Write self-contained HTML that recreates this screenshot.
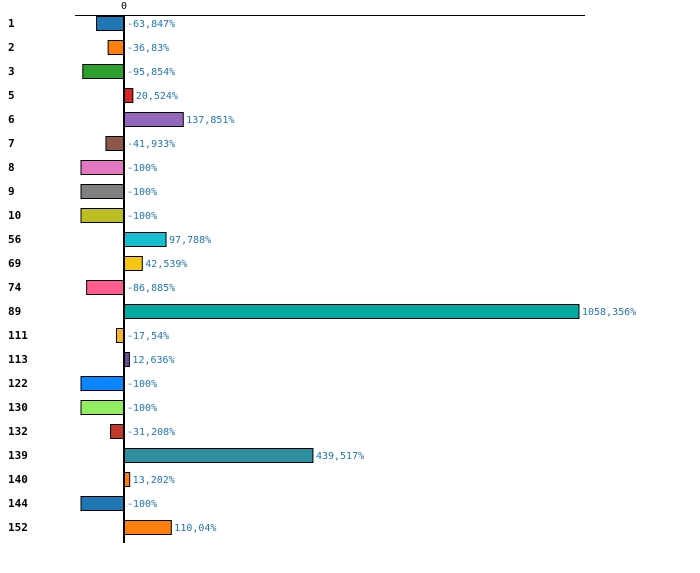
<!DOCTYPE html>
<html><head><meta charset="utf-8"><style>
body{margin:0;background:#fff;}
svg{display:block;font-family:"DejaVu Sans Mono","Liberation Mono",monospace;}
</style></head><body>
<svg id="chart" width="700" height="573" xmlns="http://www.w3.org/2000/svg"></svg>
<script>
const categories=["1","2","3","5","6","7","8","9","10","56","69","74","89","111","113","122","130","132","139","140","144","152"];
const values=[-63.847,-36.83,-95.854,20.524,137.851,-41.933,-100,-100,-100,97.788,42.539,-86.885,1058.356,-17.54,12.636,-100,-100,-31.208,439.517,13.202,-100,110.04];
const labels=["-63,847%","-36,83%","-95,854%","20,524%","137,851%","-41,933%","-100%","-100%","-100%","97,788%","42,539%","-86,885%","1058,356%","-17,54%","12,636%","-100%","-100%","-31,208%","439,517%","13,202%","-100%","110,04%"];
const colors=["#1f77b4","#ff7f0e","#2ca02c","#d62728","#9467bd","#8c564b","#e377c2","#7f7f7f","#bcbd22","#17becf","#f5c518","#ff5c8d","#00aaa0","#f7b731","#6a4c93","#0a84ff","#90ee60","#c0392b","#2e8fa0","#ff7f0e","#1f77b4","#ff7f0e"];
const svgEl=document.getElementById('chart');
const NS="http://www.w3.org/2000/svg";
const x0=124, scaleK=455/1058.356;
function xPos(v){return x0+v*scaleK;}
function yPos(i){return 16+i*24;}
function mk(t,a){const e=document.createElementNS(NS,t);for(const k in a)e.setAttribute(k,a[k]);svgEl.appendChild(e);return e;}
const topAxis=mk('line',{x1:75,y1:15.5,x2:585,y2:15.5,stroke:'#000','stroke-width':1});


const zl=mk('text',{x:x0,y:9,'text-anchor':'middle','font-size':10});
zl.textContent='0';


categories.forEach(function(c,i){
  const v=values[i];
  const r=mk('rect',{x:Math.min(xPos(v),x0),y:yPos(i)+0.5,width:Math.abs(xPos(v)-x0),height:14,fill:colors[i],stroke:'#000','stroke-width':1});
  
  
  const t=mk('text',{x:8,y:yPos(i)+11,'font-size':11,'font-weight':'bold'});
  t.textContent=c;
  
  
  const vl=mk('text',{x:(v>0?xPos(v):x0)+3,y:yPos(i)+11,'font-size':10,fill:'#1f77b4'});
  vl.textContent=labels[i];
  
  
});
const ax=mk('line',{x1:x0,y1:15,x2:x0,y2:543,stroke:'#000','stroke-width':2});


</script>
</body></html>
